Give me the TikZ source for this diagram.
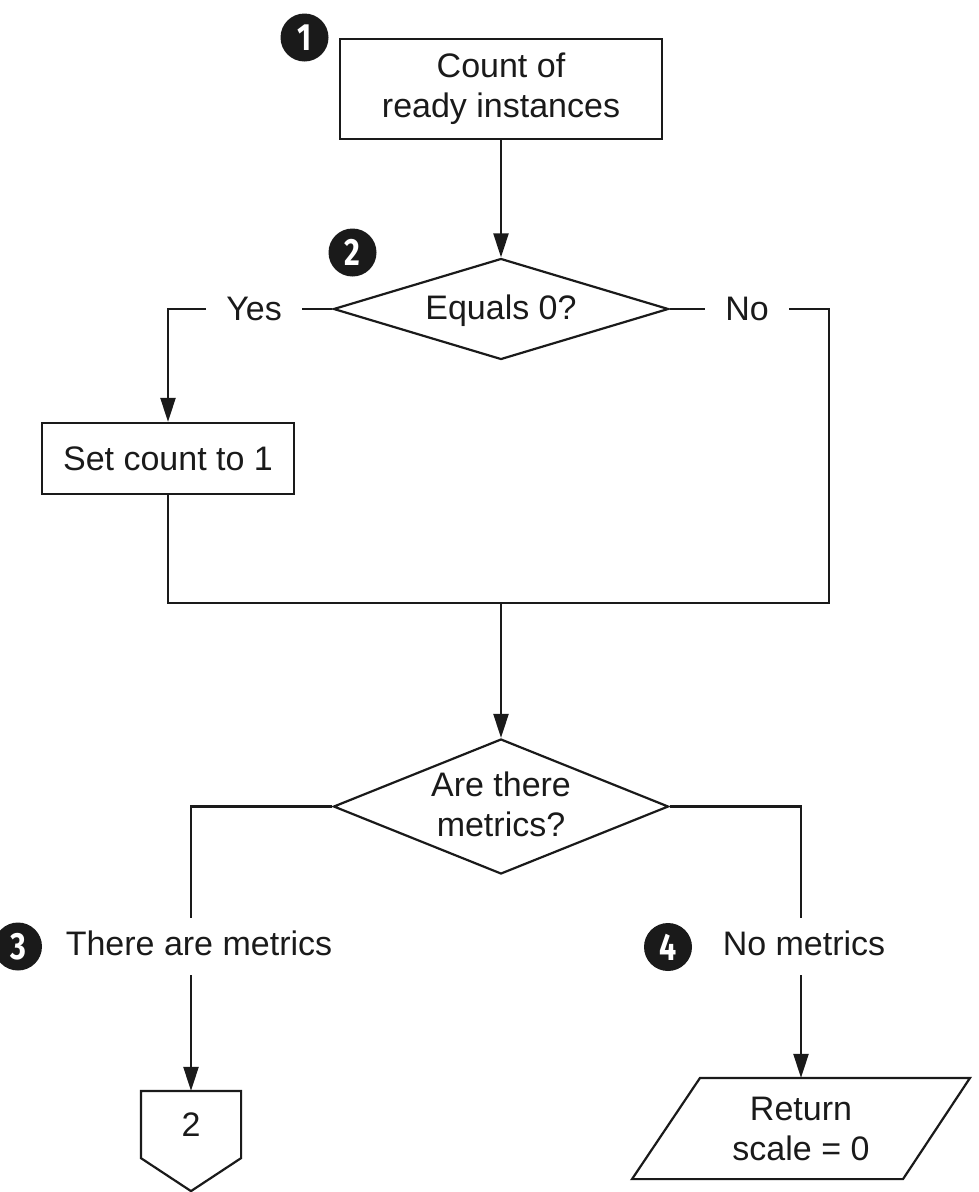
\documentclass[tikz,border=0pt]{standalone}
\usepackage{fontspec}
\setmainfont{Liberation Sans}
\newfontfamily\badgefont{Fira Sans}
\usetikzlibrary{shapes.geometric,arrows.meta}
\definecolor{ink}{HTML}{1A1A1A}
\begin{document}
\begin{tikzpicture}[x=1pt,y=-1pt,line width=2.2pt,draw=ink,text=ink,
  txt/.style={font=\fontsize{34}{40}\selectfont},
  box/.style={draw,rectangle,inner sep=0pt,align=center,txt},
  dia/.style={draw,diamond,inner sep=0pt},
  lbl/.style={inner sep=0pt,txt},
  hollow/.style={rectangle,inner sep=0pt,align=center,txt},
  badge/.style={circle,fill=ink,minimum size=48pt,inner sep=0pt,text=white,
    font=\badgefont\bfseries\fontsize{38}{38}\selectfont},
  arr/.style={-{Triangle[length=24pt,width=15pt]}}]
\useasboundingbox (0,0) rectangle (978,1192);

% nodes
\node[box,minimum width=322pt,minimum height=100pt] (cnt) at (501,89) {Count of\\ready instances};
\node[dia,minimum width=335pt,minimum height=101pt] (d1) at (501,309) {};
\node[hollow] (d1t) at (501,311) {Equals 0?};
\node[box,minimum width=252pt,minimum height=71pt] (setc) at (168,458.5) {Set count to 1};
\node[dia,minimum width=335pt,minimum height=135pt] (d2) at (501,806.5) {};
\node[hollow] (d2t) at (501,804) {Are there\\metrics?};
\node[lbl,inner xsep=19pt] (yes) at (254,309) {Yes};
\node[lbl,inner xsep=19.5pt] (no) at (747,309) {No};
\node[lbl] (lab3) at (199,943) {There are metrics};
\node[lbl] (lab4) at (804,943) {No metrics};
\node[hollow,minimum width=98pt,minimum height=65pt] (pg) at (191,1124.5) {\raisebox{-3pt}{2}};
\node[hollow,minimum width=270pt,minimum height=99pt] (ret) at (801,1128.5) {Return\\scale = 0};

% badges
\node[badge] (n1) at (304.5,37.5) {\scalebox{0.8}[1]{1}};
\node[badge] (n2) at (352.5,252.5) {\scalebox{0.8}[1]{2}};
\node[badge] (n3) at (18,946.5) {\scalebox{0.8}[1]{3}};
\node[badge] (n4) at (668,947) {\scalebox{0.8}[1]{4}};

% shapes drawn around hollow nodes
\draw (pg.north west) -- (pg.north east) -- (pg.south east)
  -- ([yshift=-33pt]pg.south) -- (pg.south west) -- cycle;
\draw ([xshift=-101pt]ret.north) -- ([xshift=169pt]ret.north)
  -- ([xshift=102pt]ret.south) -- ([xshift=-169pt]ret.south) -- cycle;

% coordinates
\coordinate (mr) at (829,603);
\coordinate (b3t) at (191,918);
\coordinate (b3b) at (191,975);
\coordinate (b4t) at (801,918);
\coordinate (b4b) at (801,975);

% connectors
\draw[arr] (cnt.south) -- (d1.north);
\draw (d1.west) -- (d1.west -| yes.east);
\draw[arr] (d1.west -| yes.west) -| (setc.north);
\draw (d1.east) -- (d1.east -| no.west);
\draw (d1.east -| no.east) -| (mr) -| (setc.south);
\draw[arr] (d2.north |- mr) -- (d2.north);
\draw (d2.west) -| (b3t);
\draw[arr] (b3b) -- (pg.north);
\draw (d2.east) -| (b4t);
\draw[arr] (b4b) -- (ret.north);
\end{tikzpicture}
\end{document}
